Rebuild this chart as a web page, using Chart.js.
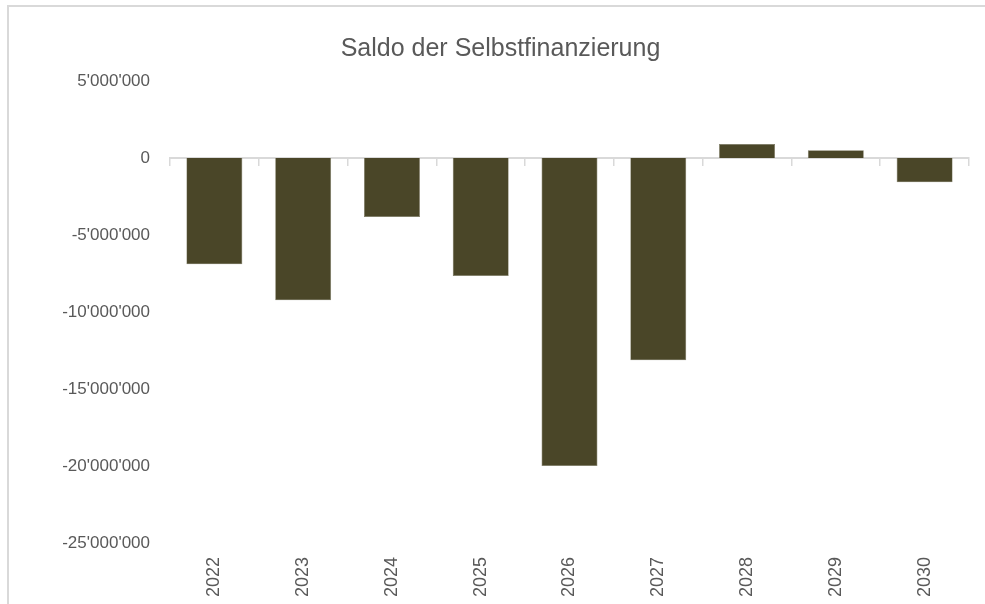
<!DOCTYPE html>
<html>
<head>
<meta charset="utf-8">
<script src="https://cdn.jsdelivr.net/npm/chart.js@4.4.1/dist/chart.umd.min.js"></script>
<style>
  html, body { margin: 0; padding: 0; background: #ffffff; overflow: hidden; }
  #wrap { position: relative; width: 985px; height: 604px; overflow: hidden; }
  #frame {
    position: absolute; left: 7px; top: 5px; width: 1000px; height: 620px;
    border-left: 2px solid #d9d9d9; border-top: 2px solid #d9d9d9;
    box-sizing: border-box; pointer-events: none;
  }
  canvas { position: absolute; left: 0; top: 0; }
</style>
</head>
<body>
<div id="wrap">
  <canvas id="saldoChart" width="985" height="604"></canvas>
  <div id="frame"></div>
</div>
<script>
// Jahre (Kategorien)
const years = ['2022', '2023', '2024', '2025', '2026', '2027', '2028', '2029', '2030'];

// Saldo der Selbstfinanzierung (CHF)
const saldo = [-6900000, -9240000, -3830000, -7660000, -20000000, -13140000, 910000, 500000, -1580000];

// Achsenbereich
const yMin = -25000000;
const yMax = 5000000;
const yStep = 5000000;

const textColor = '#595959';
const fontFamily = "'Liberation Sans', Arial, sans-serif";

// Schweizer Tausendertrennzeichen
function formatCH(value) {
    const neg = value < 0;
    let s = Math.abs(Math.round(value)).toString();
    s = s.replace(/\B(?=(\d{3})+(?!\d))/g, "'");
    return (neg ? '-' : '') + s;
}

const ctx = document.getElementById('saldoChart').getContext('2d');

new Chart(ctx, {
    type: 'bar',
    data: {
        labels: years,
        datasets: [{
            label: 'Saldo der Selbstfinanzierung',
            data: saldo,
            backgroundColor: '#4a4628',
            borderColor: '#77745c',
            borderWidth: 0.6,
            categoryPercentage: 1.0,
            barPercentage: 0.63,
            xAxisID: 'x',
            yAxisID: 'y'
        }]
    },
    options: {
        responsive: false,
        animation: false,
        layout: { padding: { left: 32, right: 16, top: 0, bottom: 0 } },
        plugins: {
            legend: { display: false },
            tooltip: { enabled: false },
            title: {
                display: true,
                text: 'Saldo der Selbstfinanzierung',
                color: textColor,
                font: { family: fontFamily, size: 25, weight: 'normal' },
                padding: { top: 34, bottom: 17 }
            }
        },
        scales: {
            y: {
                min: yMin,
                max: yMax,
                grid: { display: false, drawTicks: false },
                border: { display: false },
                ticks: {
                    stepSize: yStep,
                    padding: 20,
                    color: textColor,
                    font: { family: fontFamily, size: 17 },
                    callback: (v) => formatCH(v)
                },
                afterFit: (scale) => { scale.width = 138; }
            },
            x: {
                type: 'category',
                position: 'bottom',
                offset: true,
                grid: { display: false, drawTicks: false },
                border: { display: false },
                ticks: {
                    minRotation: 90,
                    maxRotation: 90,
                    padding: 14,
                    color: textColor,
                    font: { family: fontFamily, size: 18 }
                },
                afterFit: (scale) => { scale.height = 61; }
            },
            // Nulllinie mit Teilstrichen an den Kategoriegrenzen
            xZero: {
                type: 'category',
                position: { y: 0 },
                offset: true,
                grid: {
                    display: true,
                    offset: true,
                    drawOnChartArea: false,
                    drawTicks: true,
                    tickLength: 7,
                    color: '#d9d9d9',
                    lineWidth: 1.5
                },
                border: { display: true, color: '#d9d9d9', width: 2 },
                ticks: { display: false }
            }
        }
    }
});
</script>
</body>
</html>
